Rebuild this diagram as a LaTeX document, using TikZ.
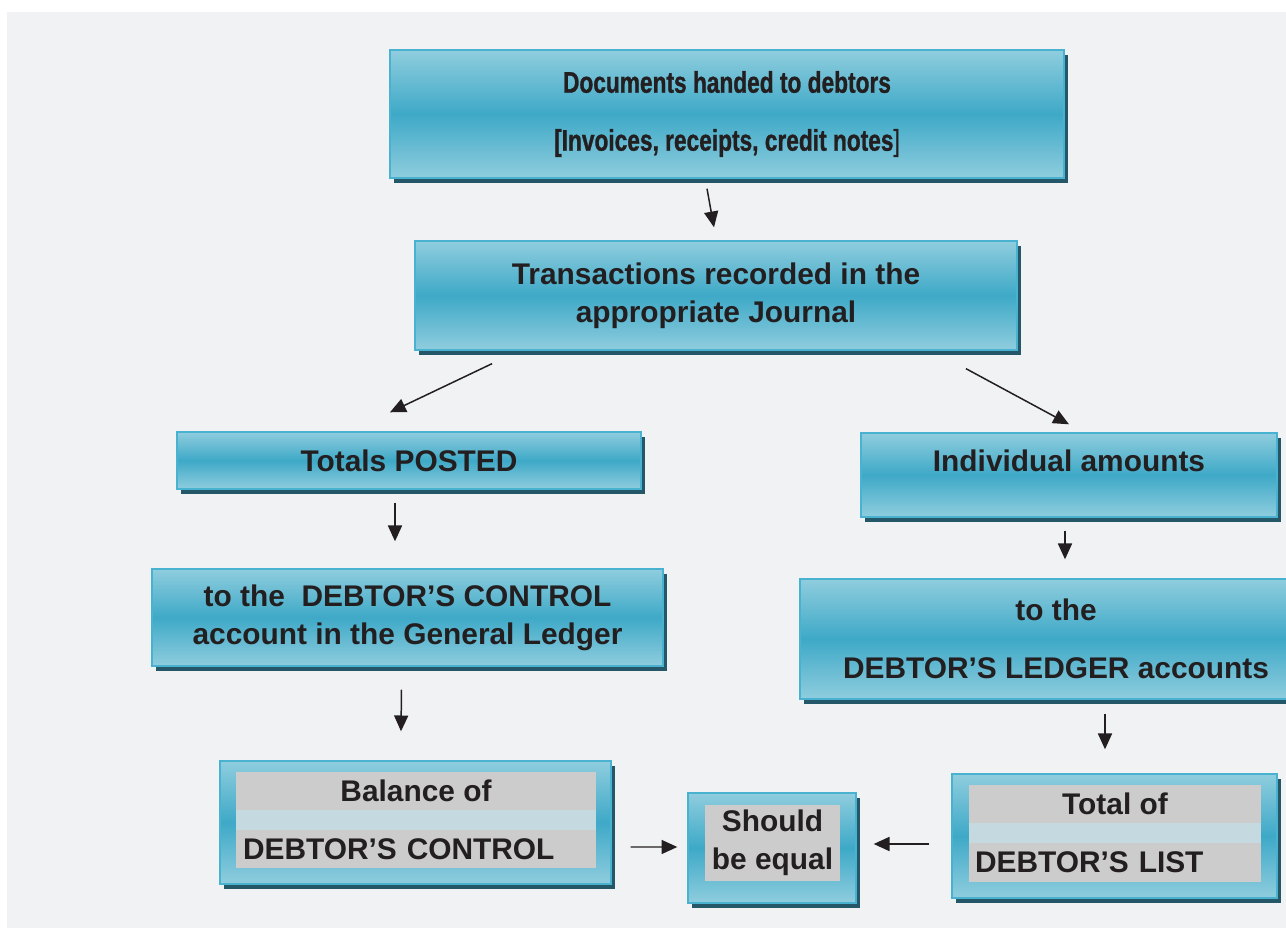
\documentclass[tikz,border=0pt]{standalone}
\usepackage{fontspec}
\setmainfont{Liberation Sans}
\newfontfamily\narrowfont{Liberation Sans}[FakeStretch=0.76, FakeBold=1]
\usepackage{tikz}
\usetikzlibrary{shadows,arrows.meta}
\definecolor{boxlight}{RGB}{143,205,222}
\definecolor{boxdark}{RGB}{62,169,199}
\definecolor{boxedge}{RGB}{72,178,208}
\definecolor{boxshadow}{RGB}{36,88,104}
\definecolor{pagegray}{RGB}{241,242,244}
\definecolor{bargray}{RGB}{204,204,204}
\definecolor{barband}{RGB}{196,218,224}
\definecolor{ink}{RGB}{35,31,32}
\tikzset{
    flow-box/.style = {draw=boxedge, line width=0.8pt, rectangle, top color=boxlight, bottom color=boxlight, middle color=boxdark,
        drop shadow={shadow xshift=2.3pt, shadow yshift=-2.8pt, fill=boxshadow, opacity=1},
        align=center, text=ink, font=\fontsize{17}{21.5}\selectfont\bfseries},
    gray-bar/.style = {fill=bargray, rectangle, inner sep=0pt, text=ink, font=\fontsize{17}{21.5}\selectfont\bfseries},
    flow-arrow/.style = {draw=ink, line width=0.85pt, -{Triangle[length=9pt, width=8pt]}},
}

\begin{document}
\begin{tikzpicture}[x=0.02cm, y=-0.02cm]
\useasboundingbox (0,0) rectangle (1286,928);
\fill[pagegray] (7,12) rectangle (1286,928);

% top of the flow
\node[flow-box, minimum width=13.48cm, minimum height=2.56cm] (docs) at (727,114)
    {\narrowfont Documents handed to debtors\\[11.5pt]\narrowfont [Invoices, receipts, credit notes{\mdseries ]}};
\node[flow-box, minimum width=12.04cm, minimum height=2.18cm] (journal) at (716,295.5)
    {Transactions recorded in the\\appropriate Journal};

% the two branches
\node[flow-box, minimum width=9.28cm, minimum height=1.14cm] (totals) at (409,460.5) {Totals POSTED};
\node[flow-box, minimum width=8.32cm, minimum height=1.68cm, text height=12pt, text depth=16pt] (amounts) at (1069,475) {Individual amounts};
\node[flow-box, minimum width=10.22cm, minimum height=1.94cm] (control) at (407.5,617.5)
    {to the \ DEBTOR’S CONTROL\\account in the General Ledger};
\node[flow-box, minimum width=10.24cm, minimum height=2.4cm] (ledger) at (1056,639)
    {to the\\[11.5pt]DEBTOR’S LEDGER accounts};

% bottom row
\node[flow-box, minimum width=7.82cm, minimum height=2.46cm] (balance) at (415.5,822.5) {};
\node[flow-box, minimum width=3.36cm, minimum height=2.2cm] (equal) at (772,848) {};
\node[flow-box, minimum width=6.5cm, minimum height=2.48cm] (total) at (1114.5,836) {};

\fill[barband] (236,810) rectangle (596,830);
\node[gray-bar, minimum width=7.2cm, minimum height=0.76cm] (balance-top) at (416,791) {Balance of};
\node[gray-bar, minimum width=7.2cm, minimum height=0.76cm, inner xsep=0.14cm, text width=6.92cm, align=left] (balance-bot) at (416,849) {DEBTOR’S CONTROL};

\node[gray-bar, minimum width=2.7cm, minimum height=1.52cm, align=center] (equal-text) at (772.5,843) {Should\\be equal};

\fill[barband] (969,823) rectangle (1261,843);
\node[gray-bar, minimum width=5.84cm, minimum height=0.76cm] (total-top) at (1115,804) {Total of};
\node[gray-bar, minimum width=5.84cm, minimum height=0.78cm, inner xsep=0.12cm, text width=5.6cm, align=left] (total-bot) at (1115,862.5) {DEBTOR’S LIST};

% arrows
\draw[flow-arrow] ([shift={(-20,10)}]docs.south) -- ([shift={(-2,-13)}]journal.north);
\draw[flow-arrow] ([shift={(-224,13)}]journal.south) -- ([shift={(-19,-19)}]totals.north);
\draw[flow-arrow] ([shift={(250,18)}]journal.south) -- ([shift={(0,-8)}]amounts.north);
\draw[flow-arrow] ([shift={(-14,13)}]totals.south) -- ([shift={(-12.5,-27)}]control.north);
\draw[flow-arrow] ([shift={(-4,13)}]amounts.south) -- ([shift={(9,-19)}]ledger.north);
\draw[flow-arrow] ([shift={(-6,23)}]control.south) -- ([shift={(-14.5,-29)}]balance.north);
\draw[flow-arrow] ([shift={(49,14)}]ledger.south) -- ([shift={(-9.5,-24)}]total.north);
\draw[flow-arrow] ([shift={(19,24.5)}]balance.east) -- ([shift={(-10,-1)}]equal.west);
\draw[flow-arrow] ([shift={(-22,8)}]total.west) -- ([shift={(17,-4)}]equal.east);
\end{tikzpicture}
\end{document}
